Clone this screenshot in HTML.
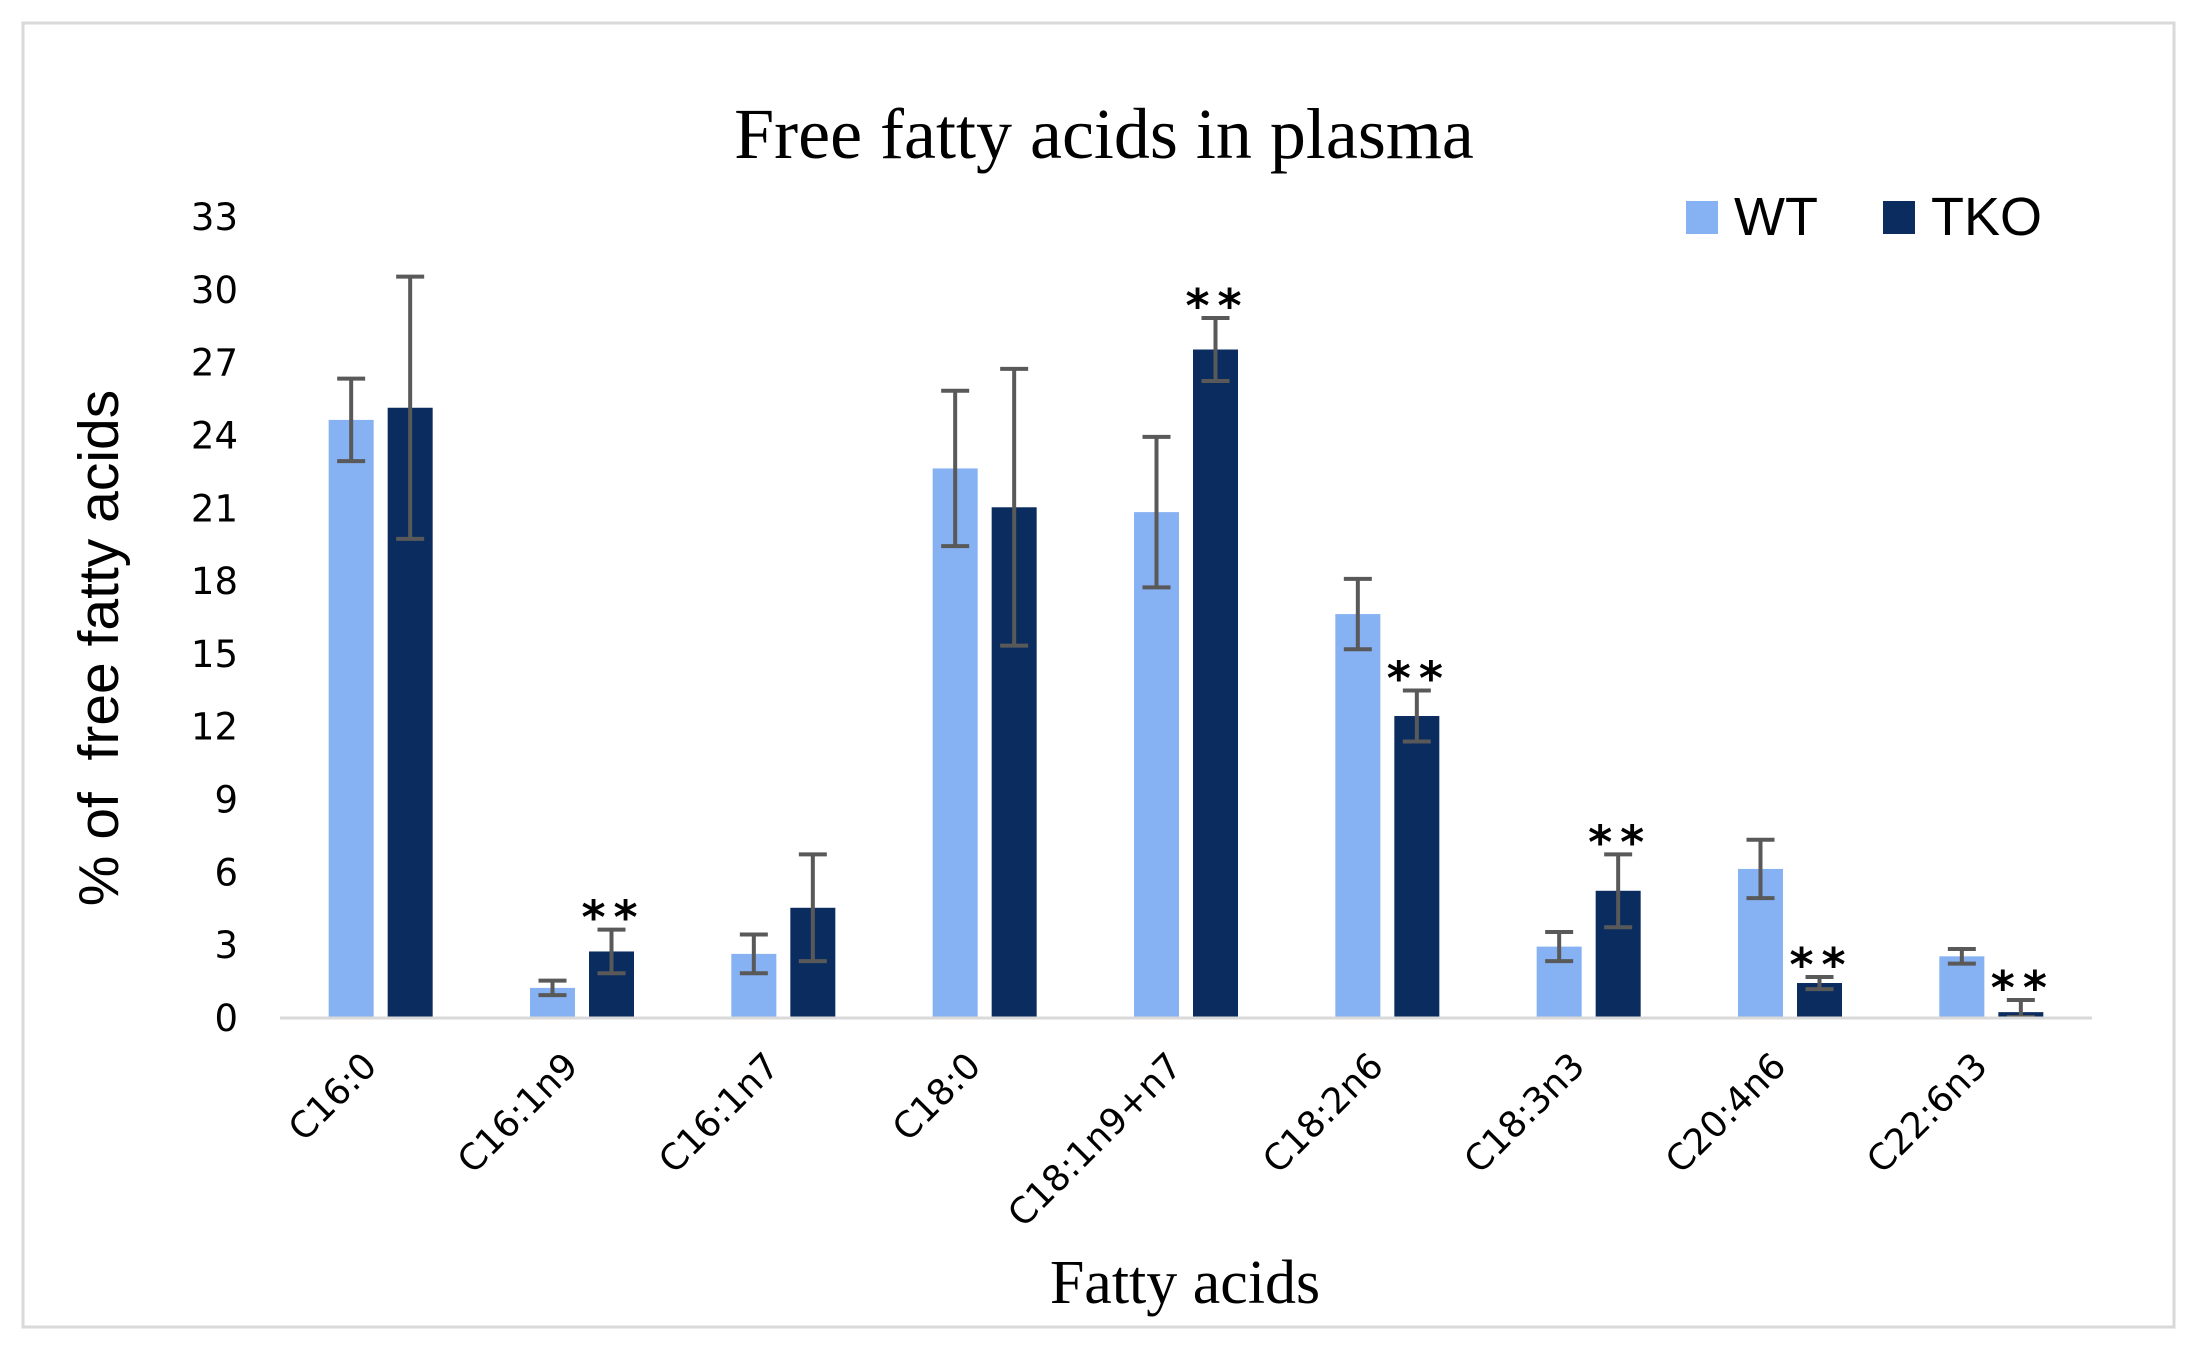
<!DOCTYPE html>
<html><head><meta charset="utf-8"><style>
html,body{margin:0;padding:0;background:#fff;}
svg{display:block;}
</style></head><body>
<svg id="chart" width="2199" height="1363" viewBox="0 0 2199 1363" xmlns="http://www.w3.org/2000/svg">
<rect x="23" y="23" width="2151" height="1304" fill="#fff" stroke="#d9d9d9" stroke-width="3"/>
<text x="1104" y="158" text-anchor="middle" font-family="Liberation Serif, serif" font-size="72" fill="#000">Free fatty acids in plasma</text>
<g>
<rect x="1686" y="201" width="32" height="33" fill="#86b1f2"/>
<text x="1734" y="235" font-family="Liberation Sans, sans-serif" font-size="54" fill="#000">WT</text>
<rect x="1883" y="201" width="32" height="33" fill="#0b2c5f"/>
<text x="1931" y="235" font-family="Liberation Sans, sans-serif" font-size="54" fill="#000">TKO</text>
</g>
<text transform="translate(118,648) rotate(-90)" text-anchor="middle" font-family="Liberation Sans, sans-serif" font-size="57" fill="#000" xml:space="preserve">% of  free fatty acids</text>
<text x="1185" y="1303" text-anchor="middle" font-family="Liberation Serif, serif" font-size="62" fill="#000">Fatty acids</text>
<g id="yticks"></g>
<g id="bars"></g>
<line x1="280" y1="1018" x2="2092" y2="1018" stroke="#d9d9d9" stroke-width="3"/>
<g id="xlabels"></g>
</svg>
<script>
const categories = ["C16:0","C16:1n9","C16:1n7","C18:0","C18:1n9+n7","C18:2n6","C18:3n3","C20:4n6","C22:6n3"];
const wtValues = [24.6,1.2,2.6,22.6,20.8,16.6,2.9,6.1,2.5];
const wtErr = [1.7,0.3,0.8,3.2,3.1,1.45,0.6,1.2,0.3];
const tkoValues = [25.1,2.7,4.5,21.0,27.5,12.4,5.2,1.4,0.2];
const tkoErr = [5.4,0.9,2.2,5.7,1.3,1.05,1.5,0.25,0.5];
const tkoSignificant = [false,true,false,false,true,true,true,true,true];
const yTicks = [0,3,6,9,12,15,18,21,24,27,30,33];

const NS = "http://www.w3.org/2000/svg";
const x0 = 280, x1 = 2092, yZero = 1017, yTop = 216, yMax = 33;
function yScale(v){ return yZero - (yZero - yTop) * v / yMax; }
const groupW = (x1 - x0) / categories.length;
function groupCenter(i){ return x0 + groupW * (i + 0.5); }
const barW = 45, gap = 14;

function mk(tag, attrs, parent){
  const el = document.createElementNS(NS, tag);
  for (const k in attrs) el.setAttribute(k, attrs[k]);
  parent.appendChild(el);
  return el;
}
const yt = document.getElementById('yticks');
yTicks.forEach(t => {
  const el = mk('text', {x: 238, y: yScale(t) + 14, 'text-anchor': 'end', 'font-family': 'DejaVu Sans, sans-serif', 'font-size': 37, fill: '#000'}, yt);
  
  
  el.textContent = t;
});
const bars = document.getElementById('bars');
function drawErr(cx, v, e){
  const g = mk('g', {stroke: '#595959', 'stroke-width': 4}, bars);
  
  
  const lo = Math.max(0, v - e), hi = v + e;
  mk('line', {x1: cx, x2: cx, y1: yScale(lo), y2: yScale(hi)}, g);
  mk('line', {x1: cx - 14, x2: cx + 14, y1: yScale(lo), y2: yScale(lo)}, g);
  mk('line', {x1: cx - 14, x2: cx + 14, y1: yScale(hi), y2: yScale(hi)}, g);
  return yScale(hi);
}
categories.forEach((c, i) => {
  const cx = groupCenter(i);
  const wx = cx - gap / 2 - barW, tx = cx + gap / 2;
  const r1 = mk('rect', {x: wx, y: yScale(wtValues[i]), width: barW, height: yZero - yScale(wtValues[i]), fill: '#86b1f2'}, bars);
  
  
  const r2 = mk('rect', {x: tx, y: yScale(tkoValues[i]), width: barW, height: yZero - yScale(tkoValues[i]), fill: '#0b2c5f'}, bars);
  
  
  drawErr(wx + barW / 2, wtValues[i], wtErr[i]);
  const top = drawErr(tx + barW / 2, tkoValues[i], tkoErr[i]);
  if (tkoSignificant[i]) {
    const s = mk('text', {x: tx + barW / 2 + 2, y: top + 4, 'text-anchor': 'middle', 'font-family': 'DejaVu Sans, sans-serif', 'font-size': 46, 'font-weight': 'bold', 'letter-spacing': '8', fill: '#000'}, bars);
    
    
    s.textContent = '**';
  }
  const xl = document.getElementById('xlabels');
  const lx = cx - 2, ly = 1068;
  const t = mk('text', {x: lx, y: ly, transform: 'rotate(-45 ' + lx + ' ' + ly + ')', 'text-anchor': 'end', 'font-family': 'DejaVu Sans, sans-serif', 'font-size': 36, fill: '#000'}, xl);
  
  
  t.textContent = c;
});
</script>
</body></html>
